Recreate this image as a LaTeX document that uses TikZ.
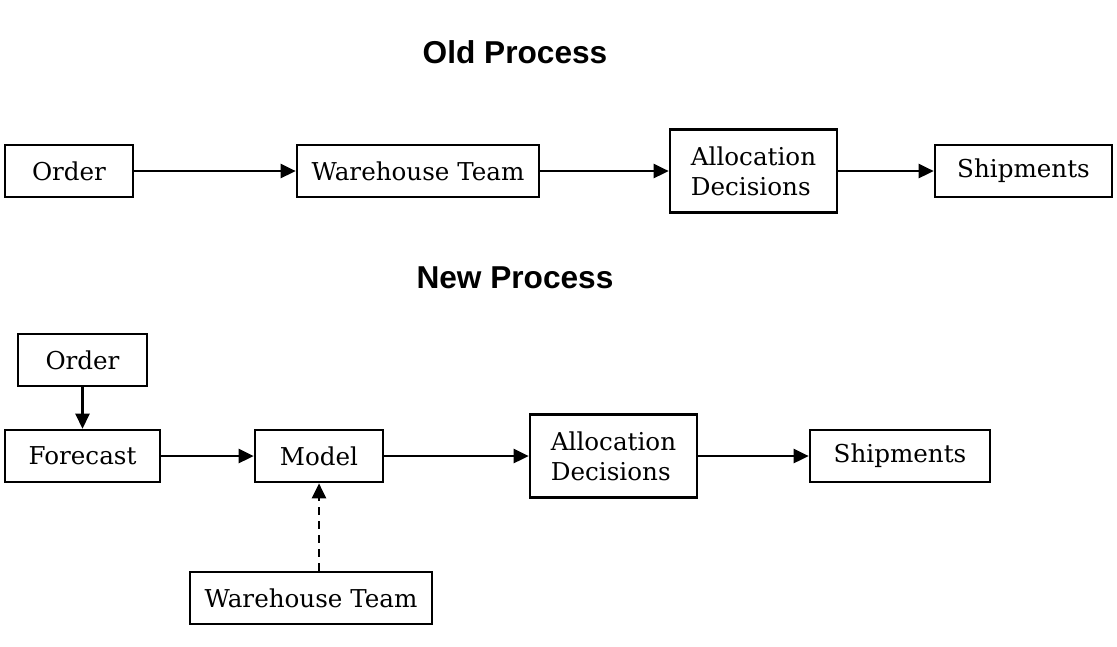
\documentclass[tikz,border=0pt]{standalone}
\usepackage{fontspec}
\setmainfont{DejaVu Serif}
\setsansfont{Liberation Sans}
\usepackage{xcolor}
\usepackage{tikz}
\usetikzlibrary{arrows.meta, positioning}

\begin{document}
\begin{tikzpicture}[
    stage/.style={rectangle, draw=black, line width=1.5pt, minimum height=10.4mm, inner sep=2mm, font=\fontsize{14}{17}\selectfont},
    heading/.style={font=\sffamily\bfseries\fontsize{18}{20}\selectfont},
    flow/.style={-{Triangle[length=3mm, width=2.8mm]}, line width=1.5pt}
]
\useasboundingbox (0,0) rectangle (22.34,-12.92);

% Old process
\node[heading] (oldtitle) at (10.3,-1.04) {Old Process};
\node[stage, minimum width=25.6mm] (oorder) at (1.38,-3.42) {Order};
\node[stage, minimum width=48.4mm] (oteam) at (8.36,-3.42) {Warehouse Team};
\node[stage, minimum width=33.4mm, minimum height=16.6mm, align=left] (oalloc) at (15.07,-3.42) {Allocation\\Decisions};
\node[stage, minimum width=35.4mm] (oship) at (20.47,-3.42) {Shipments};

\draw[flow] (oorder) -- (oteam);
\draw[flow] (oteam) -- (oalloc);
\draw[flow] (oalloc) -- (oship);

% New process
\node[heading] (newtitle) at (10.3,-5.56) {New Process};
\node[stage, minimum width=25.8mm] (norder) at (1.65,-7.2) {Order};
\node[stage, minimum width=31mm] (forecast) at (1.65,-9.12) {Forecast};
\node[stage, minimum width=25.6mm] (model) at (6.38,-9.12) {Model};
\node[stage, minimum width=33.4mm, minimum height=16.6mm, align=left] (nalloc) at (12.27,-9.12) {Allocation\\Decisions};
\node[stage, minimum width=36mm] (nship) at (18.0,-9.12) {Shipments};
\node[stage, minimum width=48.4mm] (nteam) at (6.22,-11.96) {Warehouse Team};

\draw[flow] (norder) -- (forecast);
\draw[flow] (forecast) -- (model);
\draw[flow] (model) -- (nalloc);
\draw[flow] (nalloc) -- (nship);
\draw[flow, dash pattern=on 1.6mm off 1.2mm] (nteam.north -| model.south) -- (model.south);

\end{tikzpicture}
\end{document}
